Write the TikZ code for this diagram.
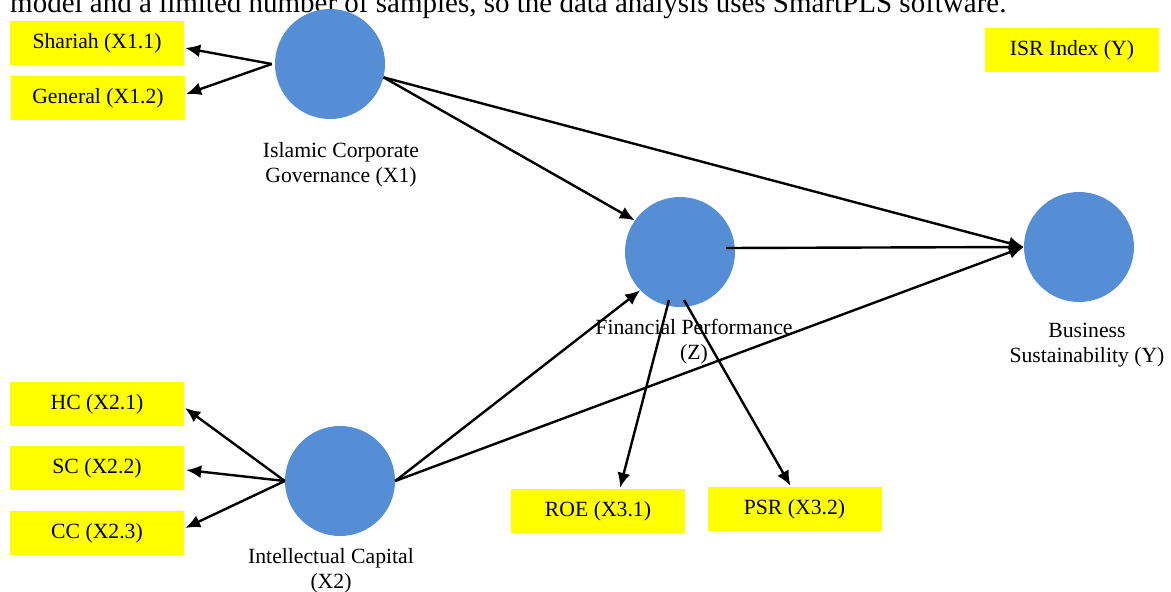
\documentclass[tikz,border=0pt]{standalone}
\usepackage{fontspec}
\setmainfont{Liberation Serif}
\usetikzlibrary{arrows.meta,calc}
\definecolor{circblue}{RGB}{85,142,213}
\definecolor{boxyellow}{RGB}{255,255,0}
\begin{document}
\begin{tikzpicture}[x=1pt,y=-1pt,
  latent/.style={circle,fill=circblue,draw=none,minimum size=110pt,inner sep=0pt},
  ind/.style={rectangle,fill=boxyellow,draw=none,minimum width=174pt,minimum height=44pt,inner sep=0pt,
    font=\fontsize{21.7}{25}\selectfont},
  lbl/.style={align=center,inner sep=0pt,font=\fontsize{21.7}{25}\selectfont},
  conn/.style={line width=2.4pt,-{Latex[length=15pt,width=13pt]}}]
\useasboundingbox (0,0) rectangle (1171,592);
\clip (0,0) rectangle (1171,592);
% top text (cut off, as in the reference)
\node[anchor=base west,inner sep=0pt,font=\fontsize{29}{34}\selectfont] (toptext) at (10,12.5)
  {model and a limited number of samples, so the data analysis uses SmartPLS software.};
% latent variables
\node[latent] (X1) at (330,64) {};
\node[latent] (Z) at (680,252) {};
\node[latent] (Y) at (1079,247) {};
\node[latent] (X2) at (340,481) {};
% indicator boxes
\node[ind] (sh) at (97,43) {Shariah (X1.1)};
\node[ind] (ge) at (98,98) {General (X1.2)};
\node[ind] (isr) at (1072,50) {ISR Index (Y)};
\node[ind] (hc) at (97,404) {HC (X2.1)};
\node[ind] (sc) at (97,468) {SC (X2.2)};
\node[ind] (cc) at (97,533) {CC (X2.3)};
\node[ind] (roe) at (598,511) {ROE (X3.1)};
\node[ind] (psr) at (794.5,509) {PSR (X3.2)};
% labels
\node[lbl] (lX1) at (341,165) {Islamic Corporate\\Governance (X1)};
\node[lbl] (lZ) at (694,342) {Financial Performance\\(Z)};
\node[lbl] (lY) at (1087,345) {Business\\Sustainability (Y)};
\node[lbl] (lX2) at (331,571) {Intellectual Capital\\(X2)};
% connectors
\draw[conn] ($(X1.west)+(-3,0)$) -- ($(sh.east)+(1,5)$);
\draw[conn] ($(X1.west)+(-3,0)$) -- ($(ge.east)+(1,-4)$);
\draw[conn] (X1.-14) -- (Z.145);
\draw[conn] (X1.-14) -- (Y.west);
\draw[conn] ($(Z.center)+(46,-4)$) -- (Y.west);
\draw[conn] (X2.east) -- (Z.224);
\draw[conn] (X2.east) -- (Y.west);
\draw[conn] (X2.west) -- ($(hc.east)+(1,4)$);
\draw[conn] (X2.west) -- ($(sc.east)+(2,2)$);
\draw[conn] (X2.west) -- ($(cc.east)+(1,-5)$);
\draw[conn] ($(Z.center)+(-11,48)$) -- ($(roe.north)+(22,-1)$);
\draw[conn] ($(Z.center)+(4,48)$) -- ($(psr.north)+(-4,-1)$);
\end{tikzpicture}
\end{document}
